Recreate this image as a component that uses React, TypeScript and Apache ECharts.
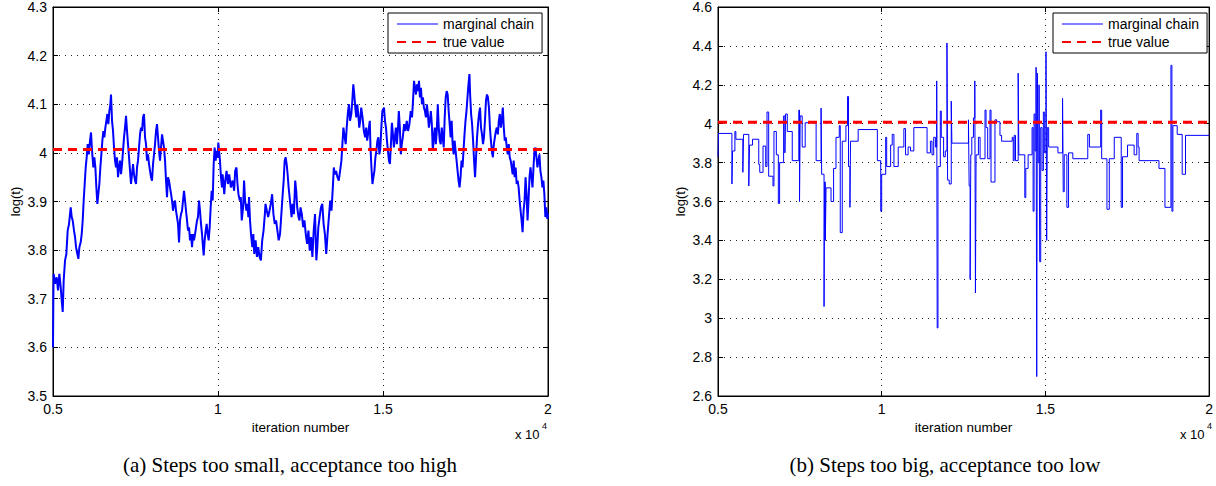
import React, { useEffect, useRef } from "react";
import * as echarts from "echarts";

// ---------- data ----------
const seriesNames = ["marginal chain", "true value"];
const trueValue = 4.007;
const xRange = [5000, 20000];
const xStep = 5000;
const leftYRange = [3.5, 4.3];
const leftYStep = 0.1;
const rightYRange = [2.6, 4.6];
const rightYStep = 0.2;
const captions = ["(a) Steps too small, acceptance too high", "(b) Steps too big, acceptance too low"];

// (a) small steps: [iteration, log(t)]
const leftChainA: [number, number][] = [
  [5000,3.600],[5010,3.700],[5021,3.751],[5062,3.731],[5112,3.744],[5152,3.717],[5193,3.751],[5233,3.724],[5264,3.697],[5294,3.673],
  [5324,3.738],[5365,3.779],[5405,3.792],[5445,3.840],[5486,3.854],[5536,3.888],[5567,3.868],[5597,3.861],[5637,3.840],[5668,3.827],
  [5698,3.806],[5738,3.792],[5769,3.782],[5799,3.806],[5839,3.816],[5870,3.833],[5900,3.861],[5930,3.902],[5960,3.936],[5991,3.970],
  [6021,3.991],[6051,4.018],[6082,3.997],[6122,4.025],[6152,4.042],[6183,4.004],[6223,3.970],[6253,3.991],[6284,3.970],[6314,3.929],
  [6344,3.895],[6375,3.916],[6405,3.936],[6435,3.970],[6465,3.997],[6496,4.025],[6526,4.045],[6556,4.032],[6587,4.052],[6617,4.066],
  [6647,4.080],[6678,4.059],[6708,4.086],[6738,4.100],[6758,4.120],[6789,4.066],[6819,4.045],[6849,4.011],[6880,3.984],[6910,3.970],
  [6940,3.991],[6970,3.950],[7001,3.970],[7031,3.984],[7061,3.956],[7092,3.977],[7122,4.004],[7152,4.032],[7183,4.052],[7213,4.076],
  [7243,4.045],[7273,4.018],[7304,3.991],[7334,3.963],[7364,3.936],[7395,3.956],[7425,3.977],[7455,3.956],[7486,3.943],[7516,3.936],
  [7546,3.970],[7576,3.984],[7607,4.011],[7637,4.038],[7667,4.052],[7698,4.045],[7728,4.073],[7758,4.080],[7789,4.032],[7819,4.018],
  [7849,3.984],[7879,3.997],[7910,3.977],[7940,3.963],[7970,3.950],[8001,3.943],[8031,3.977],[8061,3.997],[8092,4.018],[8122,4.045],
  [8152,4.059],[8182,4.032],[8213,4.004],[8243,3.984],[8273,4.011],[8304,4.038],[8334,4.025],[8364,4.011],[8395,3.984],[8425,3.943],
  [8455,3.909],[8485,3.950],[8516,3.943],[8546,3.929],[8576,3.916],[8607,3.902],[8637,3.881],[8667,3.895],[8698,3.902],[8728,3.881],
  [8758,3.868],[8788,3.854],[8819,3.816],[8849,3.861],[8879,3.874],[8910,3.881],[8940,3.902],[8970,3.922],[9001,3.902],[9031,3.881],
  [9061,3.861],[9091,3.840],[9122,3.847],[9152,3.820],[9182,3.833],[9213,3.806],[9243,3.833],[9273,3.820],[9304,3.833],[9334,3.847],
  [9364,3.861],[9394,3.868],[9425,3.902],[9455,3.881],[9485,3.854],[9516,3.833],[9546,3.806],[9566,3.789],[9596,3.820],[9627,3.840],
  [9657,3.854],[9687,3.833],[9718,3.820],[9748,3.847],[9778,3.888],[9809,3.922],[9839,3.902],[9869,3.977],[9899,4.011],[9930,3.984],
  [9960,4.004],[9990,3.990],
];
const leftChainB: [number, number][] = [
  [10010,4.021],[10060,3.984],[10090,3.950],[10120,3.929],[10140,3.956],[10190,3.915],[10220,3.943],[10260,3.963],[10300,3.936],[10340,3.956],
  [10390,3.929],[10440,3.943],[10490,3.922],[10520,3.963],[10560,3.970],[10590,3.936],[10620,3.915],[10660,3.902],[10690,3.909],[10720,3.861],
  [10760,3.888],[10790,3.943],[10820,3.902],[10860,3.881],[10890,3.895],[10920,3.868],[10940,3.909],[10970,3.861],[11000,3.833],[11040,3.806],
  [11070,3.833],[11100,3.792],[11140,3.820],[11180,3.786],[11220,3.806],[11260,3.786],[11300,3.779],[11340,3.820],[11380,3.840],[11420,3.874],
  [11440,3.895],[11480,3.881],[11520,3.868],[11560,3.881],[11600,3.895],[11640,3.915],[11680,3.874],[11720,3.854],[11760,3.861],[11800,3.840],
  [11840,3.820],[11880,3.833],[11920,3.874],[11960,3.915],[11990,3.943],[12020,3.984],[12050,3.991],[12080,3.977],[12110,3.956],[12140,3.929],
  [12170,3.909],[12200,3.888],[12230,3.868],[12260,3.895],[12300,3.874],[12340,3.943],[12370,3.922],[12400,3.888],[12440,3.868],[12470,3.861],
  [12500,3.888],[12540,3.874],[12580,3.847],[12620,3.861],[12660,3.833],[12700,3.813],[12740,3.840],[12780,3.799],[12820,3.827],[12860,3.786],
  [12900,3.840],[12940,3.874],[12980,3.779],[13010,3.806],[13040,3.847],[13080,3.868],[13120,3.888],[13160,3.895],[13200,3.854],[13240,3.833],
  [13280,3.792],[13320,3.833],[13360,3.868],[13400,3.902],[13440,3.881],[13480,3.929],[13510,3.970],[13540,3.956],[13580,3.963],[13620,3.950],
  [13660,3.943],[13700,3.963],[13740,3.984],[13770,4.018],[13800,4.052],[13840,4.032],[13870,4.018],[13900,4.052],[13940,4.086],[13970,4.100],
  [14000,4.066],[14040,4.080],[14070,4.107],[14100,4.141],[14130,4.120],[14160,4.093],[14190,4.073],[14220,4.100],[14250,4.080],[14280,4.052],
  [14310,4.066],[14340,4.093],[14380,4.073],[14420,4.045],[14460,4.032],[14490,4.052],[14520,4.025],[14560,4.045],[14600,4.066],[14620,4.011],
  [14650,3.970],[14680,3.936],[14710,3.950],[14740,3.963],[14770,3.991],[14800,4.004],[14830,4.025],[14860,4.032],[14890,3.997],[14920,4.011],
  [14950,4.052],[14980,4.086],
];
const leftChainC: [number, number][] = [
  [15030,4.093],[15060,4.066],[15090,4.052],[15120,4.025],[15150,4.004],[15180,3.984],[15210,3.977],[15240,4.018],[15270,4.062],[15300,4.038],
  [15330,4.011],[15360,4.032],[15390,4.052],[15420,4.018],[15450,4.045],[15480,4.086],[15510,4.052],[15540,3.997],[15570,4.018],[15600,4.032],
  [15640,4.059],[15680,4.045],[15720,4.066],[15760,4.045],[15800,4.059],[15840,4.086],[15880,4.073],[15910,4.107],[15940,4.148],[15970,4.134],
  [16000,4.120],[16030,4.141],[16060,4.127],[16090,4.148],[16120,4.114],[16150,4.134],[16180,4.100],[16210,4.114],[16240,4.093],[16270,4.086],
  [16300,4.073],[16330,4.100],[16360,4.080],[16390,4.052],[16420,4.066],[16450,4.086],[16480,4.059],[16510,4.004],[16540,4.032],[16570,4.052],
  [16600,4.018],[16630,4.045],[16660,4.100],[16690,4.052],[16720,4.025],[16750,4.018],[16780,4.052],[16810,4.032],[16840,4.011],[16870,4.073],
  [16900,4.114],[16930,4.127],[16960,4.120],[16990,4.086],[17020,4.059],[17050,4.032],[17080,4.066],[17110,4.018],[17140,3.997],[17170,4.025],
  [17200,4.004],[17230,3.984],[17260,3.963],[17290,3.943],[17320,3.929],[17350,3.950],[17380,3.984],[17410,3.970],[17440,4.004],[17470,4.038],
  [17500,4.066],[17530,4.086],[17560,4.114],[17590,4.141],[17620,4.162],[17640,4.120],[17670,4.080],[17700,4.059],[17730,4.025],[17760,3.984],
  [17790,3.950],[17820,3.991],[17850,4.032],[17880,4.059],[17910,4.080],[17940,4.093],[17970,4.052],[18000,4.038],[18030,4.018],[18060,4.032],
  [18090,4.066],[18120,4.107],[18150,4.120],[18180,4.114],[18210,4.093],[18240,4.052],[18270,4.025],[18300,4.004],[18330,3.991],[18360,4.018],
  [18390,4.032],[18420,4.045],[18450,4.052],[18480,4.038],[18510,4.066],[18540,4.080],[18570,4.052],[18600,4.066],[18630,4.093],[18660,4.052],
  [18690,4.025],[18720,4.032],[18750,4.011],[18780,3.997],[18810,4.018],[18840,3.991],[18870,3.984],[18900,3.970],[18930,3.956],[18960,3.984],
  [18990,3.950],[19020,3.970],[19050,3.936],[19080,3.943],[19110,3.929],[19140,3.902],[19170,3.881],[19200,3.861],[19230,3.837],[19260,3.881],
  [19290,3.902],[19320,3.950],[19350,3.915],[19380,3.861],[19410,3.902],[19440,3.950],[19470,3.970],[19500,3.950],[19530,3.929],[19560,3.970],
  [19590,4.004],[19620,4.011],[19650,3.991],[19680,3.970],[19710,3.984],[19740,3.997],[19770,3.963],[19800,3.950],[19830,3.929],[19860,3.943],
  [19890,3.915],[19920,3.868],[19950,3.888],[19980,3.864],[20000,3.875],
];

// (b) big steps: change points [iteration, log(t)] of the chain
const rightChain: [number, number][] = [
  [5000,3.83],[5015,3.95],[5425,3.69],[5445,3.86],[5516,3.96],[5546,3.92],[5759,3.75],[5780,3.945],[5941,3.68],[5962,3.89],
  [6053,3.92],[6245,3.79],[6275,3.75],[6375,3.885],[6457,3.78],[6497,4.06],[6548,3.73],[6679,3.68],[6709,3.96],[6782,3.84],
  [6843,3.59],[6882,3.80],[7004,4.04],[7043,3.85],[7064,4.05],[7116,3.96],[7268,3.81],[7468,4.07],[7490,3.60],[7510,4.04],
  [7571,3.88],[7663,4.005],[7997,3.81],[8148,4.08],[8166,3.74],[8239,3.06],[8257,3.70],[8279,3.40],[8300,3.67],[8452,3.60],
  [8531,3.77],[8604,3.93],[8704,3.99],[8734,3.44],[8795,3.91],[8907,3.99],[8957,4.14],[8987,3.78],[9029,3.57],[9048,3.91],
  [9281,3.97],[9867,3.81],[9970,3.55],[10000,3.74],[10122,3.93],[10152,3.78],[10273,3.89],[10322,3.945],[10374,3.78],[10504,3.88],
  [10677,3.975],[10728,3.84],[10807,3.88],[10880,3.86],[10981,3.98],[11385,3.85],[11488,3.91],[11536,3.84],[11588,3.93],[11640,3.88],
  [11680,4.22],[11695,2.95],[11719,3.78],[11790,4.065],[11820,3.93],[11891,3.83],[11942,3.86],[11993,4.415],[12013,3.71],[12063,3.69],
  [12124,4.116],[12144,3.90],[12650,4.02],[12671,3.68],[12701,3.20],[12721,3.84],[12752,3.93],[12802,4.03],[12843,4.22],[12863,3.13],
  [12883,3.84],[12954,3.93],[13005,3.82],[13156,4.07],[13187,3.98],[13237,3.82],[13308,4.07],[13339,3.70],[13460,4.02],[13511,4.01],
  [13612,3.94],[13662,3.91],[13986,3.93],[14017,3.81],[14047,3.94],[14087,3.81],[14168,4.26],[14189,3.84],[14371,3.62],[14401,3.77],
  [14472,3.84],[14593,3.98],[14624,3.55],[14654,4.05],[14684,3.86],[14715,4.29],[14735,2.70],[14755,4.26],[14776,3.80],[14806,4.20],
  [14826,3.29],[14857,3.98],[14897,3.76],[14938,4.06],[14978,3.85],[15018,4.37],[15039,3.40],[15059,3.98],[15099,3.88],[15383,3.85],
  [15524,4.13],[15545,3.65],[15575,3.84],[15656,3.57],[15707,3.85],[15838,3.82],[16294,3.945],[16344,3.88],[16688,4.07],[16719,3.82],
  [16880,3.56],[16951,3.82],[17103,3.93],[17316,3.57],[17356,3.83],[17508,3.89],[17710,3.84],[17791,3.95],[17832,3.88],[17862,3.81],
  [18469,3.77],[18651,3.57],[18834,4.30],[18864,3.55],[18894,3.99],[19026,3.945],[19178,3.74],[19279,3.94],[20000,3.94],
];

const leftChain = [...leftChainA, ...leftChainB, ...leftChainC];
const trueLine: [number, number][] = [[xRange[0], trueValue], [xRange[1], trueValue]];

// ---------- styling ----------
const SANS = "'Liberation Sans', Arial, Helvetica, sans-serif";
const SERIF = "'Liberation Serif', 'Times New Roman', serif";
const BLACK = "#000";

function xAxes(gridIndex: number) {
  const common = {
    gridIndex,
    type: "value" as const,
    min: xRange[0],
    max: xRange[1],
    interval: xStep,
    axisLine: { show: true, onZero: false, lineStyle: { color: BLACK, width: 1 } },
    axisTick: { show: true, inside: true, length: 5, lineStyle: { color: BLACK } },
  };
  return [
    {
      ...common,
      position: "bottom",
      axisLabel: {
        show: true,
        margin: 6,
        color: BLACK,
        fontFamily: SANS,
        fontSize: 14,
        formatter: (v: number) => String(v / 10000),
      },
      splitLine: { show: true, lineStyle: { color: "#222", type: [1, 5], width: 1 } },
      name: "iteration number",
      nameLocation: "middle",
      nameGap: 22,
      nameTextStyle: { color: BLACK, fontFamily: SANS, fontSize: 13.5 },
    },
    {
      ...common,
      position: "top",
      axisLabel: { show: false },
      splitLine: { show: false },
    },
  ];
}

function yAxes(gridIndex: number, range: number[], step: number) {
  const common = {
    gridIndex,
    type: "value" as const,
    min: range[0],
    max: range[1],
    interval: step,
    axisLine: { show: true, onZero: false, lineStyle: { color: BLACK, width: 1 } },
    axisTick: { show: true, inside: true, length: 5, lineStyle: { color: BLACK } },
  };
  return [
    {
      ...common,
      position: "left",
      axisLabel: {
        show: true,
        margin: 6,
        color: BLACK,
        fontFamily: SANS,
        fontSize: 14,
        formatter: (v: number) => String(Math.round(v * 10) / 10),
      },
      splitLine: { show: true, lineStyle: { color: "#222", type: [1, 5], width: 1 } },
      name: "log(t)",
      nameLocation: "middle",
      nameGap: 31,
      nameRotate: 90,
      nameTextStyle: { color: BLACK, fontFamily: SANS, fontSize: 13 },
    },
    {
      ...common,
      position: "right",
      axisLabel: { show: false },
      splitLine: { show: false },
    },
  ];
}

function legendAt(left: number) {
  return {
    show: true,
    data: [
      { name: seriesNames[0], lineStyle: { width: 1 } },
      { name: seriesNames[1] },
    ],
    orient: "vertical",
    left,
    top: 13,
    itemWidth: 41,
    itemHeight: 14,
    itemGap: 4,
    padding: [4, 8, 4, 8],
    borderColor: BLACK,
    borderWidth: 1,
    backgroundColor: "#fff",
    selectedMode: false,
    itemStyle: { opacity: 0 },
    textStyle: { color: BLACK, fontFamily: SANS, fontSize: 14, padding: [0, 0, 0, 0] },
  };
}

export default function App() {
  const ref = useRef<HTMLDivElement>(null);

  useEffect(() => {
    if (!ref.current) return;
    const chart = echarts.init(ref.current, null, { renderer: "svg" });
    const blue = { color: "#0000ff" };
    const red = { color: "#ff0000" };

    chart.setOption({
      animation: false,
      backgroundColor: "#fff",
      grid: [
        { left: 53, top: 6, width: 495, height: 390, show: true, borderColor: BLACK, borderWidth: 1, backgroundColor: "transparent" },
        { left: 718, top: 6, width: 494, height: 390, show: true, borderColor: BLACK, borderWidth: 1, backgroundColor: "transparent" },
      ],
      xAxis: [...xAxes(0), ...xAxes(1)],
      yAxis: [...yAxes(0, leftYRange, leftYStep), ...yAxes(1, rightYRange, rightYStep)],
      legend: [legendAt(388), legendAt(1053)],
      series: [
        {
          type: "line",
          name: seriesNames[0],
          xAxisIndex: 0,
          yAxisIndex: 0,
          data: leftChain,
          symbol: "none",
          showSymbol: false,
          lineStyle: { ...blue, width: 2 },
          itemStyle: blue,
          z: 3,
        },
        {
          type: "line",
          name: seriesNames[1],
          xAxisIndex: 0,
          yAxisIndex: 0,
          data: trueLine,
          symbol: "none",
          showSymbol: false,
          lineStyle: { ...red, width: 3, type: [9, 6] },
          itemStyle: red,
          z: 4,
        },
        {
          type: "line",
          name: seriesNames[0],
          xAxisIndex: 2,
          yAxisIndex: 2,
          data: rightChain,
          step: "end",
          symbol: "none",
          showSymbol: false,
          lineStyle: { ...blue, width: 1 },
          itemStyle: blue,
          z: 3,
        },
        {
          type: "line",
          name: seriesNames[1],
          xAxisIndex: 2,
          yAxisIndex: 2,
          data: trueLine,
          symbol: "none",
          showSymbol: false,
          lineStyle: { ...red, width: 3, type: [9, 6] },
          itemStyle: red,
          z: 4,
        },
      ],
      graphic: [
        { type: "text", x: 515, y: 428, style: { text: "x 10", fill: BLACK, font: `13px ${SANS}` } },
        { type: "text", x: 542, y: 421, style: { text: "4", fill: BLACK, font: `9px ${SANS}` } },
        { type: "text", x: 1180, y: 428, style: { text: "x 10", fill: BLACK, font: `13px ${SANS}` } },
        { type: "text", x: 1207, y: 421, style: { text: "4", fill: BLACK, font: `9px ${SANS}` } },
        {
          type: "text",
          x: 290,
          y: 465,
          style: { text: captions[0], fill: BLACK, font: `21px ${SERIF}`, textAlign: "center", textVerticalAlign: "middle" },
        },
        {
          type: "text",
          x: 945,
          y: 465,
          style: { text: captions[1], fill: BLACK, font: `21px ${SERIF}`, textAlign: "center", textVerticalAlign: "middle" },
        },
      ],
    });

    return () => chart.dispose();
  }, []);

  return (
    <div
      ref={ref}
      style={{ position: "fixed", left: 0, top: 0, width: 1216, height: 486, background: "#fff" }}
    />
  );
}
